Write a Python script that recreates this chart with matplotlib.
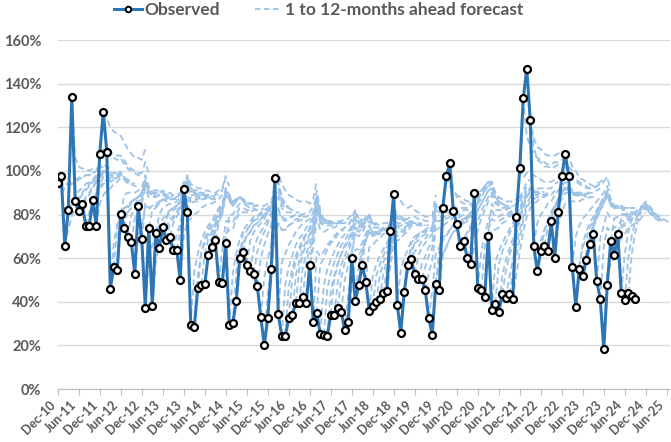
import matplotlib
matplotlib.use("Agg")
import matplotlib.pyplot as plt
from matplotlib.lines import Line2D
from matplotlib.transforms import ScaledTranslation

# Observed monthly values (%), Dec-10 onwards (month index 0 = Dec-10)
observed = [
    94.4, 97.8, 65.6, 82.0, 133.8, 86.1, 81.7, 84.7, 74.9, 74.9, 86.5, 74.9,
    107.9, 127.2, 108.7, 45.9, 55.8, 54.6, 80.3, 73.9, 69.6, 67.4, 52.8, 83.9,
    68.8, 37.3, 73.9, 38.1, 71.4, 64.8, 74.2, 68.3, 69.9, 63.5, 63.5, 49.8,
    91.6, 81.0, 29.2, 28.3, 46.3, 47.9, 48.0, 61.5, 65.1, 68.2, 49.2, 48.4,
    67.0, 29.3, 30.1, 40.4, 59.9, 62.7, 57.0, 53.9, 52.8, 47.3, 33.1, 20.0,
    32.6, 54.8, 96.6, 34.4, 24.3, 24.4, 32.4, 33.8, 39.6, 39.6, 42.0, 39.6,
    56.9, 30.6, 34.7, 25.2, 24.7, 24.2, 34.0, 34.0, 37.3, 35.4, 26.9, 30.6,
    60.0, 40.4, 47.6, 57.0, 49.2, 35.9, 38.1, 39.8, 41.1, 43.9, 44.8, 72.3,
    89.6, 38.5, 25.8, 44.6, 56.7, 59.5, 52.6, 50.5, 50.5, 45.3, 32.4, 24.8,
    48.3, 45.4, 82.9, 97.5, 103.5, 81.8, 75.8, 65.7, 67.8, 60.0, 57.5, 89.8,
    46.3, 45.6, 42.3, 70.3, 36.4, 39.1, 35.5, 43.4, 41.7, 43.4, 41.3, 78.9,
    101.1, 133.3, 146.9, 123.1, 65.6, 54.0, 63.4, 65.6, 63.1, 76.9, 60.2, 81.3,
    97.7, 107.7, 97.7, 56.0, 37.8, 55.0, 51.7, 59.2, 66.4, 71.0, 49.4, 41.1,
    18.3, 47.7, 67.9, 61.3, 71.1, 44.2, 40.8, 43.9, 42.7, 41.1,
]

# 1- to 12-months-ahead forecast paths; row k starts from the observed value of month k
forecast_paths = [
    [90,92,93,94,95,96,97,98,98,99,100,101],
    [94,94,95,96,97,97,98,98,99,100,101,102],
    [73,79,83,87,89,91,93,95,96,98,99,98],
    [85,88,91,92,94,95,96,98,99,100,100,99],
    [106,102,101,101,100,101,101,102,103,102,101,101],
    [88,90,92,94,95,97,99,100,99,99,99,99],
    [85,88,90,93,95,97,99,98,98,98,98,100],
    [87,89,92,95,97,98,98,98,98,98,99,98],
    [81,86,90,93,95,96,96,96,97,98,97,95],
    [83,87,91,94,95,95,96,97,98,97,95,94],
    [91,94,97,97,97,97,98,99,97,96,95,94],
    [85,89,91,92,94,95,97,96,94,94,93,93],
    [110,108,106,106,105,106,103,101,100,99,98,98],
    [124,120,118,117,116,113,110,108,106,106,105,110],
    [108,108,107,107,105,102,101,100,99,99,104,99],
    [67,75,81,83,84,86,87,88,89,95,91,89],
    [75,81,83,84,86,87,88,90,95,91,90,89],
    [75,79,81,83,85,87,88,94,90,89,88,89],
    [89,90,90,90,91,92,98,93,91,91,91,91],
    [83,85,87,88,90,96,91,90,90,90,90,89],
    [80,82,85,87,93,90,89,88,89,90,89,89],
    [78,82,85,92,88,88,88,89,89,88,89,88],
    [70,75,84,83,83,84,85,87,86,87,87,87],
    [90,96,92,90,90,90,91,90,90,89,89,90],
    [85,83,84,85,86,87,87,88,87,88,89,95],
    [60,66,71,75,78,80,82,83,84,86,92,94],
    [82,83,85,87,87,87,87,88,89,95,97,93],
    [58,66,71,74,78,79,81,84,91,93,89,89],
    [80,83,84,85,85,86,88,94,96,92,91,91],
    [75,78,81,82,83,86,92,94,91,90,90,90],
    [79,82,83,84,86,93,95,92,91,90,90,90],
    [76,78,81,83,91,93,90,90,89,90,89,89],
    [76,79,82,90,92,89,89,89,89,89,89,88],
    [71,76,85,89,86,87,87,88,88,88,87,88],
    [73,83,87,85,86,86,87,87,88,87,87,89],
    [70,77,78,80,81,83,84,85,85,86,87,89],
    [98,94,93,92,92,91,91,90,90,91,92,98],
    [88,88,88,89,88,89,88,89,90,91,97,93],
    [54,62,68,72,75,77,80,83,85,92,89,85],
    [52,62,67,71,74,77,81,83,91,88,84,86],
    [63,69,73,76,78,82,84,92,89,86,87,88],
    [62,69,72,76,79,83,90,88,85,87,88,86],
    [62,68,72,77,80,89,86,84,86,88,86,84],
    [70,75,79,82,90,88,85,87,88,87,85,85],
    [74,79,82,90,88,85,87,88,87,86,85,85],
    [76,81,89,87,84,86,88,87,85,85,85,84],
    [64,77,77,76,80,83,83,82,82,83,82,83],
    [71,73,73,78,81,81,81,81,82,82,82,83],
    [80,80,83,85,85,84,83,84,84,84,84,85],
    [53,62,69,72,73,75,77,78,79,80,82,83],
    [54,64,67,70,72,75,76,78,79,81,83,91],
    [62,67,70,72,75,76,78,80,82,83,92,93],
    [73,75,77,79,79,81,82,83,85,93,95,88],
    [73,75,78,79,80,81,83,85,93,95,88,85],
    [68,72,74,76,78,81,83,92,93,87,84,84],
    [65,69,72,75,78,81,90,92,86,84,83,82],
    [63,68,72,76,79,89,91,85,83,83,82,82],
    [60,66,71,75,85,88,83,81,81,81,81,81],
    [51,60,66,79,83,79,78,79,79,80,79,80],
    [44,55,70,76,73,73,75,76,77,77,78,79],
    [54,70,76,73,73,75,76,78,78,79,79,80],
    [76,82,78,77,78,79,80,80,80,81,81,84],
    [99,94,91,89,88,87,86,86,86,85,87,96],
    [58,62,66,69,72,74,76,77,78,81,91,82],
    [48,56,61,66,69,71,74,76,79,89,81,78],
    [47,55,61,65,69,71,74,78,88,80,78,77],
    [51,59,63,67,71,73,77,88,80,78,77,77],
    [52,59,64,68,71,75,86,79,77,77,76,76],
    [55,62,66,70,74,86,79,77,77,77,76,76],
    [56,62,67,72,84,77,76,76,76,76,76,77],
    [58,64,70,82,76,75,75,75,75,76,76,77],
    [57,65,78,73,72,73,74,74,75,76,76,77],
    [71,83,77,76,76,76,76,77,77,78,78,80],
    [63,61,63,66,68,70,72,73,74,75,78,82],
    [57,60,64,67,68,71,72,74,75,78,82,78],
    [47,55,59,63,66,69,71,72,75,81,77,78],
    [46,53,58,62,66,68,71,74,79,76,77,79],
    [45,52,58,62,66,68,73,78,75,76,78,80],
    [50,57,62,65,68,72,78,76,77,78,80,76],
    [49,57,61,65,70,76,74,75,77,79,76,75],
    [51,58,62,68,74,73,74,77,79,76,75,74],
    [50,57,63,71,70,72,75,77,74,74,74,74],
    [44,54,64,64,67,71,75,72,72,72,73,74],
    [47,59,61,65,69,73,71,72,72,73,73,75],
    [73,72,74,77,79,76,76,75,76,76,77,83],
    [57,63,68,72,70,71,71,73,73,75,82,79],
    [62,68,72,70,71,72,73,74,75,82,79,79],
    [69,74,72,72,73,74,74,76,83,80,79,78],
    [65,66,68,69,71,72,74,81,79,78,77,78],
    [52,57,61,64,67,70,78,76,76,76,76,78],
    [52,57,61,65,68,76,75,75,75,76,77,77],
    [52,58,62,66,75,74,74,74,75,77,76,76],
    [53,59,63,73,72,73,73,75,76,76,76,76],
    [55,61,71,70,72,72,74,76,76,75,76,75],
    [56,67,68,69,71,72,75,75,75,75,75,75],
    [80,78,78,78,78,79,79,78,78,77,77,77],
    [89,86,84,83,84,82,81,80,79,79,79,89],
    [55,60,64,68,70,71,72,72,73,74,84,83],
    [46,54,60,63,65,68,69,71,72,83,81,81],
    [58,64,67,68,70,71,72,73,84,83,82,81],
    [67,69,71,72,73,74,74,85,83,83,82,82],
    [68,70,72,72,73,74,85,83,83,82,82,83],
    [61,65,67,69,71,82,81,81,81,81,82,81],
    [57,61,65,67,79,79,79,79,80,81,80,80],
    [56,61,65,77,77,78,78,79,80,80,80,80],
    [53,59,73,74,75,76,77,79,78,79,80,80],
    [45,62,65,69,71,73,75,76,77,78,78,80],
    [50,57,62,65,69,72,73,75,76,77,79,80],
    [63,68,70,73,75,76,77,78,79,81,82,85],
    [61,65,69,72,73,75,77,78,80,81,85,87],
    [84,84,84,83,83,83,83,84,85,88,90,92],
    [93,91,89,88,87,86,86,87,90,91,93,95],
    [92,88,86,85,85,85,85,87,89,91,93,94],
    [81,81,82,82,83,84,87,90,92,94,95,90],
    [76,78,79,81,82,86,88,91,93,94,89,87],
    [69,72,75,78,82,85,88,91,92,88,86,85],
    [70,74,77,82,85,88,91,92,88,86,85,84],
    [66,71,77,81,85,88,90,86,85,84,84,84],
    [65,73,78,82,86,89,85,84,83,83,83,84],
    [89,91,93,95,95,90,88,87,86,86,86,87],
    [63,71,77,82,79,79,80,80,81,82,83,87],
    [65,73,78,77,77,78,79,80,81,83,86,90],
    [66,73,73,74,76,77,79,80,82,86,89,93],
    [85,82,82,82,82,83,83,85,88,91,95,96],
    [58,63,67,70,73,76,79,83,87,91,92,92],
    [57,63,67,71,74,77,82,86,90,92,92,91],
    [52,59,64,69,73,79,84,88,91,91,90,91],
    [54,61,66,71,77,83,88,90,90,90,91,90],
    [51,59,66,73,79,85,88,89,89,90,89,90],
    [53,61,69,77,83,86,87,88,89,89,89,90],
    [52,63,72,79,83,85,86,88,88,89,89,91],
    [80,85,90,92,92,92,92,92,92,92,94,95],
    [97,99,99,98,97,96,95,95,95,96,97,98],
    [116,111,108,106,105,104,103,103,104,104,105,105],
    [123,115,111,110,108,107,107,107,108,108,109,106],
    [111,105,104,102,102,101,102,103,103,104,102,100],
    [76,80,82,85,86,89,91,93,95,93,91,91],
    [68,73,77,81,84,87,90,92,91,90,89,89],
    [72,77,81,84,87,90,92,91,90,90,89,89],
    [74,79,83,86,89,92,91,90,89,89,89,89],
    [74,80,84,87,90,90,89,89,88,89,88,89],
    [84,87,90,93,92,90,90,90,90,89,90,90],
    [75,81,85,86,86,86,86,87,87,88,88,89],
    [90,93,92,91,90,90,90,90,90,90,91,92],
    [102,99,96,95,94,93,92,92,92,93,94,94],
    [107,102,100,97,96,95,94,93,94,95,96,97],
    [98,96,95,94,93,92,92,93,94,95,97,91],
    [70,75,78,80,82,84,86,88,90,93,87,85],
    [57,65,69,74,77,81,84,86,90,85,83,83],
    [67,72,76,79,82,85,88,91,85,84,84,83],
    [63,70,74,78,82,85,89,84,83,83,82,82],
    [70,75,79,82,85,89,84,83,83,83,82,82],
    [76,80,84,86,90,85,84,84,83,83,83,82],
    [81,85,87,91,86,84,84,84,83,83,83,83],
    [69,75,81,78,78,79,80,80,81,80,81,81],
    [65,74,72,74,75,77,77,79,79,80,80,81],
    [53,57,61,66,69,71,74,75,76,77,79,81],
    [66,69,72,74,75,77,78,79,80,81,83,81],
    [78,79,80,80,81,81,81,82,83,84,83,81],
    [72,75,76,78,78,79,80,82,83,82,80,78],
    [78,79,80,80,81,81,83,84,83,81,79,79],
    [62,72,78,81,83,84,83,81,79,78,77,77],
    [60,70,77,81,84,85,83,81,79,78,77,77],
    [62,72,79,84,86,84,82,80,79,78,77,76],
]

tick_labels = ["Dec-10", "Jun-11", "Dec-11", "Jun-12", "Dec-12", "Jun-13", "Dec-13",
               "Jun-14", "Dec-14", "Jun-15", "Dec-15", "Jun-16", "Dec-16", "Jun-17",
               "Dec-17", "Jun-18", "Dec-18", "Jun-19", "Dec-19", "Jun-20", "Dec-20",
               "Jun-21", "Dec-21", "Jun-22", "Dec-22", "Jun-23", "Dec-23", "Jun-24",
               "Dec-24", "Jun-25"]
y_ticks = [0, 20, 40, 60, 80, 100, 120, 140, 160]

FONT = ["Lato", "DejaVu Sans"]
TXT = "#595959"
OBS_C = "#2E75B6"
FC_C = "#9DC3E6"

plt.rcParams["font.family"] = FONT

fig = plt.figure(figsize=(6.71, 4.42), dpi=100)
ax = fig.add_axes([0.0861, 0.1199, 0.9128, 0.7896])

for k, row in enumerate(forecast_paths):
    xs = list(range(k, k + len(row) + 1))
    ys = [observed[k]] + row
    ax.plot(xs, ys, color=FC_C, lw=1.3, ls=(0, (3.5, 2)), zorder=2)

ax.plot(range(len(observed)), observed, color=OBS_C, lw=2.2, marker="o", ms=5,
        mfc="white", mec="black", mew=1.6, zorder=3)

ax.set_xlim(0, 175)
ax.set_ylim(0, 160)
ax.grid(axis="y", color="#D9D9D9", lw=1)
ax.set_axisbelow(True)
for s in ["top", "right", "left"]:
    ax.spines[s].set_visible(False)
ax.spines["bottom"].set_color("#BFBFBF")
ax.tick_params(axis="y", length=0, pad=12)
ax.tick_params(axis="x", length=4, color="#BFBFBF", pad=3)

ax.set_yticks(y_ticks)
ax.set_yticklabels([f"{v}%" for v in y_ticks], fontsize=10.5, fontweight="bold", color=TXT)
tick_pos = [6 * i for i in range(len(tick_labels))]
ax.set_xticks(tick_pos)
ax.set_xticklabels(tick_labels, rotation=45, ha="right", va="top", rotation_mode="anchor",
                   fontsize=9, fontweight="bold", color=TXT)
shift = ScaledTranslation(-6 / 72, 0, fig.dpi_scale_trans)
for lab in ax.get_xticklabels():
    lab.set_transform(lab.get_transform() + shift)

handles = [
    Line2D([], [], color=OBS_C, lw=2.2, marker="o", ms=4, mfc="white", mec="black", mew=1.4),
    Line2D([], [], color=FC_C, lw=1.3, ls=(0, (3, 2))),
]
fig.legend(handles, ["Observed", "1 to 12-months ahead forecast"], loc="upper center",
           bbox_to_anchor=(0.475, 1.03), ncol=2, frameon=False, handlelength=1.6,
           columnspacing=2.0, handletextpad=0.15,
           prop={"family": FONT, "weight": "bold", "size": 12.5})
for t in fig.legends[0].get_texts():
    t.set_color(TXT)

fig.savefig("out.png", dpi=100)
